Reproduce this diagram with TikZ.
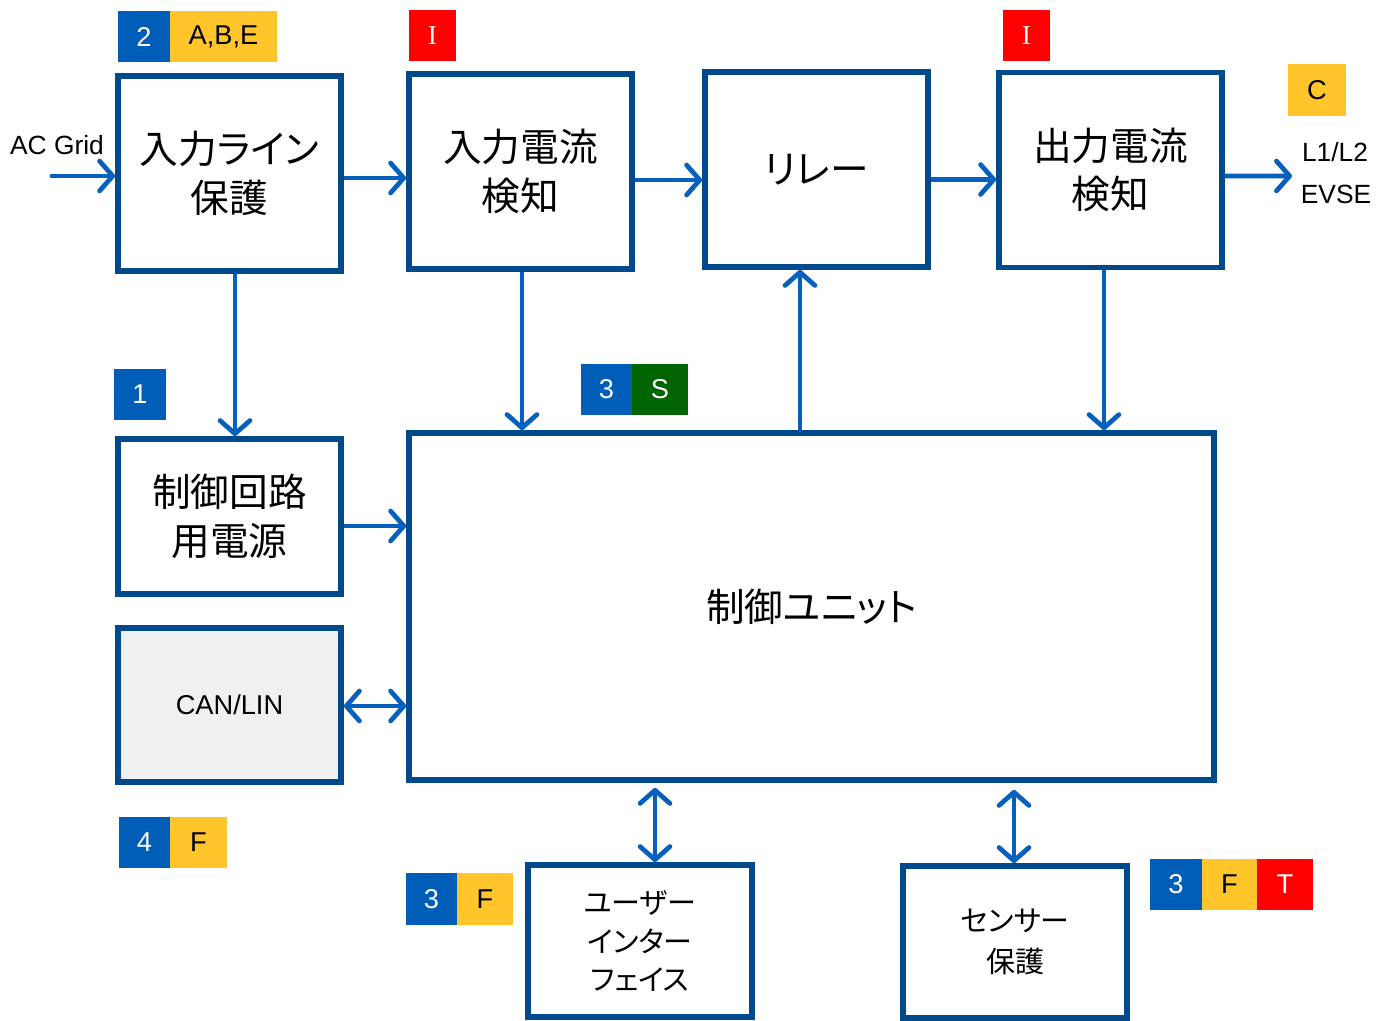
\documentclass[tikz,border=0pt]{standalone}
\usepackage{fontspec}
\setmainfont{Liberation Sans}
\newfontfamily\jp[RawFeature=+palt]{Noto Sans CJK JP}
\newfontfamily\serifI{Liberation Serif}
\usetikzlibrary{arrows.meta,calc}
\definecolor{border}{RGB}{0,74,140}
\definecolor{arrowblue}{RGB}{5,96,190}
\definecolor{bblue}{RGB}{0,94,184}
\definecolor{byellow}{RGB}{255,197,42}
\definecolor{bred}{RGB}{255,0,0}
\definecolor{bgreen}{RGB}{0,100,0}
\definecolor{canfill}{RGB}{240,240,240}
\begin{document}
\begin{tikzpicture}[x=0.02cm,y=-0.02cm,
  blk/.style={draw=border, line width=3.3pt, fill=white, rectangle, inner sep=0pt,
    minimum width=4.46cm, minimum height=3.9cm, align=center,
    font=\jp\fontsize{22}{27.5}\selectfont},
  smallblk/.style={blk, minimum width=4.48cm, minimum height=3.04cm,
    font=\jp\fontsize{16.5}{22}\selectfont},
  arr/.style={draw=arrowblue, line width=2.7pt, -{Straight Barb[length=7.5pt,width=17pt,round]}},
  darr/.style={draw=arrowblue, line width=2.7pt, {Straight Barb[length=7.5pt,width=17pt,round]}-{Straight Barb[length=7.5pt,width=17pt,round]}},
  badge/.style={rectangle, inner sep=0pt, minimum width=1.04cm, minimum height=1.02cm,
    font=\fontsize{15.5}{18}\selectfont},
  bb/.style={badge, fill=bblue, text=white},
  by/.style={badge, fill=byellow, text=black},
  br/.style={badge, fill=bred, text=white},
  bg/.style={badge, fill=bgreen, text=white},
  lbl/.style={font=\fontsize{15}{18}\selectfont, inner sep=0pt},
]
\useasboundingbox (0,0) rectangle (1378,1020);

% blocks
\node[blk] (b1) at (229.5,173.5) {入力ライン\\保護};
\node[blk] (b2) at (520.5,171.5) {入力電流\\検知};
\node[blk] (b3) at (816.5,169.5) {リレー};
\node[blk] (b4) at (1110.5,170) {出力電流\\検知};
\node[blk, minimum height=3.1cm] (b5) at (229.5,516.5) {制御回路\\用電源};
\node[blk, minimum height=3.08cm, fill=canfill, font=\fontsize{15.5}{18}\selectfont] (can) at (229.5,705) {CAN/LIN};
\node[blk, minimum width=16.1cm, minimum height=6.94cm] (cu) at (811.5,606.5) {制御ユニット};
\node[smallblk] (ui) at (640,941) {ユーザー\\インター\\フェイス};
\node[smallblk, font=\jp\fontsize{16.5}{23}\selectfont] (sen) at (1015,942) {センサー\\保護};

% labels
\node[lbl] (acg) at (57,145) {AC Grid};
\node[lbl] (l1) at (1335,152) {L1/L2};
\node[lbl] (evse) at (1336,194) {EVSE};
\coordinate (acin) at (50,176);
\coordinate (out) at (1292,176);

% connectors
\draw[arr] (acin) -- (acin -| b1.west);
\draw[arr] ([yshift=-0.09cm]b1.east) -- ([yshift=-0.09cm]b1.east -| b2.west);
\draw[arr] ([yshift=-0.17cm]b2.east) -- ([yshift=-0.17cm]b2.east -| b3.west);
\draw[arr] ([yshift=-0.2cm]b3.east) -- ([yshift=-0.2cm]b3.east -| b4.west);
\draw[arr] ([yshift=-0.12cm]b4.east) -- (out);
\draw[arr] ([xshift=0.11cm]b1.south) -- ([xshift=0.11cm]b5.north);
\draw[arr] ([xshift=0.03cm]b2.south) -- ([xshift=0.03cm]b2.south |- cu.north);
\draw[arr] ([xshift=-0.33cm]b3.south |- cu.north) -- ([xshift=-0.33cm]b3.south);
\draw[arr] ([xshift=-0.13cm]b4.south) -- ([xshift=-0.13cm]b4.south |- cu.north);
\draw[arr] ([yshift=-0.19cm]b5.east) -- ([yshift=-0.19cm]b5.east -| cu.west);
\draw[darr] ([yshift=-0.02cm]can.east) -- ([yshift=-0.02cm]can.east -| cu.west);
\draw[darr, shorten <=0.1cm] ([xshift=0.3cm]ui.north |- cu.south) -- ([xshift=0.3cm]ui.north);
\draw[darr, shorten <=0.14cm] ([xshift=-0.02cm]sen.north |- cu.south) -- ([xshift=-0.02cm]sen.north);

% badges
\node[bb] (t2) at (144,37) {2};
\node[by, minimum width=2.14cm] (tabe) at (223.5,37) {A,B,E};
\node[br, minimum width=0.94cm, font=\serifI\fontsize{15.5}{18}\selectfont] (ti1) at (432.5,35.5) {I};
\node[br, minimum width=0.94cm, font=\serifI\fontsize{15.5}{18}\selectfont] (ti2) at (1026.5,35.5) {I};
\node[by, minimum width=1.16cm, minimum height=1.04cm] (tc) at (1317,90) {C};
\node[bb] (t1) at (140,394.5) {1};
\node[bb, minimum width=1.02cm] (t3a) at (606.5,389.5) {3};
\node[bg, minimum width=1.12cm] (tsa) at (660,389.5) {S};
\node[bb] (t4) at (144.5,842.5) {4};
\node[by, minimum width=1.14cm] (tf4) at (198.5,842.5) {F};
\node[bb, minimum width=1.02cm, minimum height=1.04cm] (t3b) at (431.5,899) {3};
\node[by, minimum width=1.12cm, minimum height=1.04cm] (tfb) at (485,899) {F};
\node[bb] (t3c) at (1176,884) {3};
\node[by, minimum width=1.1cm] (tfc) at (1229.5,884) {F};
\node[br, minimum width=1.12cm] (ttc) at (1285,884) {T};
\end{tikzpicture}
\end{document}
